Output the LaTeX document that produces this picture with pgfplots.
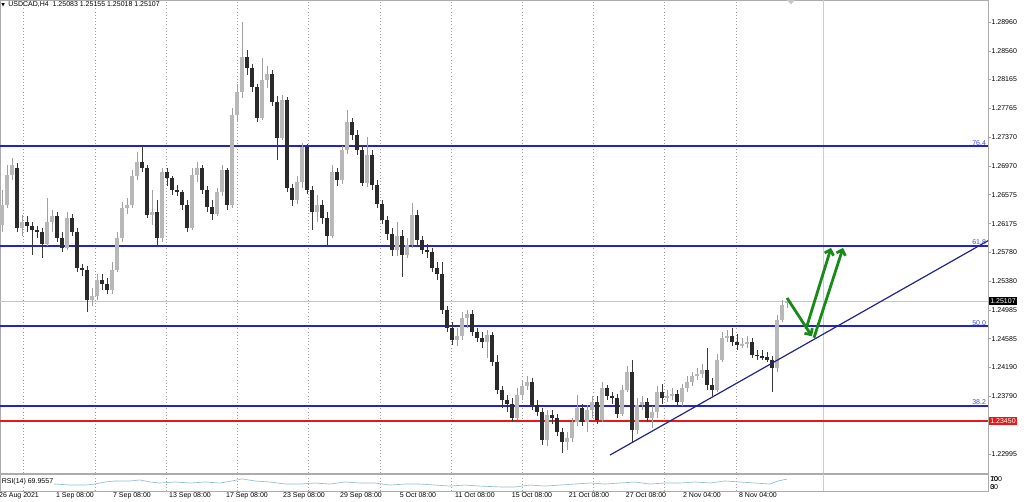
\documentclass[border=0pt]{standalone}
\usepackage{fontspec}
\setmainfont{Liberation Sans}
\newfontfamily\dejavu{DejaVu Sans}
\usepackage{pgfplots}
\usepackage{pgfplotstable}
\pgfplotsset{compat=1.18}
\usetikzlibrary{arrows.meta}
\definecolor{fibBlue}{HTML}{2323C8}
\definecolor{fibText}{HTML}{4646DC}
\definecolor{trendNavy}{HTML}{23238C}
\definecolor{levelRed}{HTML}{E81818}
\definecolor{bidLine}{HTML}{D6C2AE}
\definecolor{bullBody}{HTML}{B8B8B8}
\definecolor{bullWick}{HTML}{A0A0A0}
\definecolor{bearBody}{HTML}{2B2B2B}
\definecolor{bearWick}{HTML}{3A3A3A}
\definecolor{arrowGreen}{HTML}{178A17}
\definecolor{rsiLine}{HTML}{93BFCC}
\newcommand{\tinyfont}{\fontsize{5.25}{6}\selectfont}

\begin{document}
% USDCAD H4 candles: x = screen column, o h l c = prices
\pgfplotstableread{
x o h l c
2 1.2616 1.2664 1.2606 1.2643
7 1.2643 1.2699 1.2639 1.2685
12 1.2685 1.2708 1.2678 1.2699
17 1.2694 1.2701 1.2606 1.2612
22 1.2612 1.2630 1.2600 1.2620
27 1.2620 1.2628 1.2606 1.2614
32 1.2614 1.2620 1.2574 1.2609
37 1.2609 1.2614 1.2598 1.2606
42 1.2606 1.2612 1.2570 1.2590
47 1.2590 1.2653 1.2587 1.2620
52 1.2620 1.2636 1.2606 1.2628
57 1.2628 1.2634 1.2592 1.2598
62 1.2598 1.2606 1.2578 1.2584
67 1.2584 1.2634 1.2581 1.2625
72 1.2625 1.2631 1.2600 1.2606
77 1.2606 1.2612 1.2551 1.2556
82 1.2556 1.2562 1.2545 1.2554
87 1.2554 1.2559 1.2496 1.2512
92 1.2512 1.2529 1.2504 1.2518
97 1.2518 1.2548 1.2512 1.2540
102 1.2540 1.2548 1.2526 1.2534
107 1.2534 1.2542 1.2520 1.2526
112 1.2526 1.2565 1.2520 1.2554
117 1.2554 1.2606 1.2551 1.2598
122 1.2598 1.2647 1.2592 1.2639
127 1.2639 1.2653 1.2631 1.2643
132 1.2643 1.2692 1.2639 1.2683
137 1.2683 1.2717 1.2678 1.2703
142 1.2703 1.2726 1.2689 1.2694
147 1.2694 1.2699 1.2625 1.2630
152 1.2630 1.2664 1.2616 1.2634
157 1.2634 1.2650 1.2585 1.2598
162 1.2598 1.2694 1.2592 1.2689
167 1.2689 1.2694 1.2669 1.2681
172 1.2681 1.2683 1.2657 1.2664
177 1.2664 1.2671 1.2656 1.2661
182 1.2661 1.2664 1.2636 1.2643
187 1.2643 1.2650 1.2606 1.2612
192 1.2612 1.2694 1.2609 1.2685
197 1.2685 1.2703 1.2675 1.2694
202 1.2694 1.2699 1.2659 1.2664
207 1.2664 1.2669 1.2634 1.2641
212 1.2641 1.2650 1.2623 1.2631
217 1.2631 1.2667 1.2628 1.2661
222 1.2661 1.2699 1.2656 1.2692
227 1.2692 1.2694 1.2636 1.2643
232 1.2643 1.2777 1.2639 1.2768
237 1.2768 1.2810 1.2758 1.2799
242 1.2799 1.2896 1.2791 1.2848
247 1.2848 1.2857 1.2823 1.2833
252 1.2833 1.2838 1.2799 1.2806
257 1.2806 1.2810 1.2758 1.2763
262 1.2763 1.2846 1.2761 1.2816
267 1.2816 1.2835 1.2805 1.2824
272 1.2824 1.2830 1.2780 1.2786
277 1.2786 1.2794 1.2705 1.2736
282 1.2736 1.2795 1.2733 1.2788
287 1.2788 1.2792 1.2661 1.2667
292 1.2667 1.2672 1.2642 1.2650
297 1.2650 1.2683 1.2645 1.2675
302 1.2675 1.2729 1.2667 1.2723
307 1.2723 1.2728 1.2659 1.2664
312 1.2664 1.2669 1.2609 1.2634
317 1.2634 1.2657 1.2620 1.2643
322 1.2643 1.2650 1.2617 1.2625
327 1.2625 1.2634 1.2587 1.2600
332 1.2600 1.2699 1.2598 1.2689
337 1.2689 1.2694 1.2669 1.2678
342 1.2678 1.2725 1.2672 1.2719
347 1.2719 1.2775 1.2714 1.2758
352 1.2758 1.2763 1.2733 1.2740
357 1.2740 1.2747 1.2712 1.2719
362 1.2719 1.2725 1.2669 1.2674
367 1.2674 1.2737 1.2668 1.2712
372 1.2712 1.2719 1.2664 1.2671
377 1.2671 1.2678 1.2639 1.2645
382 1.2645 1.2650 1.2617 1.2623
387 1.2623 1.2628 1.2595 1.2603
392 1.2603 1.2612 1.2573 1.2581
397 1.2581 1.2620 1.2573 1.2600
402 1.2600 1.2609 1.2544 1.2574
407 1.2574 1.2598 1.2570 1.2588
412 1.2588 1.2646 1.2584 1.2630
417 1.2630 1.2636 1.2587 1.2595
422 1.2595 1.2600 1.2576 1.2581
427 1.2581 1.2590 1.2570 1.2578
432 1.2578 1.2584 1.2551 1.2556
437 1.2556 1.2565 1.2540 1.2548
442 1.2548 1.2565 1.2493 1.2498
447 1.2498 1.2504 1.2468 1.2474
452 1.2474 1.2482 1.2450 1.2457
457 1.2457 1.2474 1.2449 1.2462
462 1.2462 1.2496 1.2457 1.2487
467 1.2487 1.2498 1.2474 1.2493
472 1.2493 1.2498 1.2462 1.2468
477 1.2468 1.2474 1.2454 1.2460
482 1.2460 1.2468 1.2446 1.2454
487 1.2454 1.2471 1.2432 1.2464
492 1.2464 1.2468 1.2421 1.2426
497 1.2426 1.2436 1.2382 1.2388
502 1.2388 1.2393 1.2363 1.2374
507 1.2374 1.2381 1.2357 1.2369
512 1.2369 1.2377 1.2344 1.2349
517 1.2349 1.2391 1.2346 1.2381
522 1.2381 1.2402 1.2374 1.2393
527 1.2393 1.2407 1.2388 1.2399
532 1.2399 1.2404 1.2360 1.2367
537 1.2367 1.2374 1.2352 1.2357
542 1.2357 1.2363 1.2312 1.2319
547 1.2319 1.2360 1.2310 1.2353
552 1.2353 1.2360 1.2341 1.2349
557 1.2349 1.2355 1.2324 1.2330
562 1.2330 1.2335 1.2301 1.2316
567 1.2316 1.2330 1.2305 1.2322
572 1.2322 1.2349 1.2316 1.2344
577 1.2344 1.2381 1.2338 1.2363
582 1.2363 1.2369 1.2338 1.2344
587 1.2344 1.2367 1.2330 1.2360
592 1.2360 1.2380 1.2349 1.2371
597 1.2371 1.2380 1.2341 1.2346
602 1.2346 1.2399 1.2344 1.2391
607 1.2391 1.2395 1.2374 1.2380
612 1.2380 1.2385 1.2369 1.2377
617 1.2377 1.2382 1.2349 1.2355
622 1.2355 1.2395 1.2352 1.2388
627 1.2388 1.2421 1.2385 1.2413
632 1.2413 1.2429 1.2315 1.2333
637 1.2333 1.2377 1.2327 1.2367
642 1.2367 1.2380 1.2360 1.2371
647 1.2371 1.2377 1.2344 1.2349
652 1.2349 1.2366 1.2335 1.2357
657 1.2357 1.2393 1.2349 1.2385
662 1.2385 1.2396 1.2369 1.2377
667 1.2377 1.2388 1.2371 1.2380
672 1.2380 1.2391 1.2374 1.2382
677 1.2382 1.2388 1.2366 1.2371
682 1.2371 1.2396 1.2366 1.2391
687 1.2391 1.2407 1.2385 1.2399
692 1.2399 1.2413 1.2393 1.2407
697 1.2407 1.2418 1.2402 1.2410
702 1.2410 1.2424 1.2404 1.2415
707 1.2415 1.2446 1.2388 1.2395
712 1.2395 1.2404 1.2380 1.2388
717 1.2388 1.2438 1.2385 1.2429
722 1.2429 1.2468 1.2426 1.2460
727 1.2460 1.2471 1.2454 1.2462
732 1.2462 1.2474 1.2449 1.2454
737 1.2454 1.2465 1.2443 1.2450
742 1.2450 1.2460 1.2446 1.2451
747 1.2451 1.2462 1.2446 1.2454
752 1.2454 1.2460 1.2432 1.2436
757 1.2436 1.2443 1.2429 1.2435
762 1.2435 1.2443 1.2429 1.2433
767 1.2433 1.2440 1.2426 1.2429
772 1.2429 1.2435 1.2385 1.2418
777 1.2418 1.2491 1.2413 1.2485
782 1.2485 1.2512 1.2482 1.2505
787 1.25083 1.25155 1.25018 1.25107
}\candles

\begin{tikzpicture}
\useasboundingbox (0,0) rectangle (768pt,375.75pt);

% price pane
\begin{axis}[
  at={(0pt,21pt)}, anchor=south west,
  width=741pt, height=354.75pt, scale only axis,
  xmin=0, xmax=988, ymin=1.22732, ymax=1.29264,
  axis line style={draw=gray!65, line width=0.6pt},
  xtick={23,95,166,237,308,380,451,522,593,664,736}, xticklabels={},
  xmajorgrids, grid style={dotted, gray!75, line width=0.4pt},
  xtick style={draw=none},
  ytick={1.2896,1.2856,1.28165,1.27765,1.2737,1.2697,1.26575,1.26175,1.2578,1.2538,1.24985,1.24585,1.2419,1.2379,1.22995},
  yticklabels={1.28960,1.28560,1.28165,1.27765,1.27370,1.26970,1.26575,1.26175,1.25780,1.25380,1.24985,1.24585,1.24190,1.23790,1.22995},
  ytick pos=right, yticklabel pos=right,
  ytick style={draw=gray!70, line width=0.5pt},
  tick align=outside, major tick length=2pt,
  yticklabel style={font=\tinyfont, anchor=west, inner sep=0pt, xshift=0.5pt},
  clip=false,
]
% chart shift line and bid line
\addplot[gray!40, line width=0.6pt] coordinates {(823,1.22732) (823,1.29264)};
\addplot[bidLine, line width=0.6pt] coordinates {(0,1.25107) (988,1.25107)};
% fibonacci levels and red level
\addplot[fibBlue, line width=1.25pt] coordinates {(0,1.27245) (988,1.27245)};
\addplot[fibBlue, line width=1.25pt] coordinates {(0,1.2587) (988,1.2587)};
\addplot[fibBlue, line width=1.25pt] coordinates {(0,1.2476) (988,1.2476)};
\addplot[fibBlue, line width=1.25pt] coordinates {(0,1.2366) (988,1.2366)};
\addplot[levelRed, line width=0.85pt] coordinates {(0,1.2345) (988,1.2345)};

% wicks
\addplot[draw=none, mark=none, error bars/.cd, y dir=both, y explicit, error mark=none,
  error bar style={draw=bullWick, line width=0.7pt}]
  table[x=x, y expr={(\thisrow{h}+\thisrow{l})/2},
        y error expr={(\thisrow{c}>=\thisrow{o})*(\thisrow{h}-\thisrow{l})/2}] {\candles};
\addplot[draw=none, mark=none, error bars/.cd, y dir=both, y explicit, error mark=none,
  error bar style={draw=bearWick, line width=0.7pt}]
  table[x=x, y expr={(\thisrow{h}+\thisrow{l})/2},
        y error expr={(\thisrow{o}>\thisrow{c})*(\thisrow{h}-\thisrow{l})/2}] {\candles};
% bodies
\addplot[draw=none, mark=none, error bars/.cd, y dir=both, y explicit, error mark=none,
  error bar style={draw=bullBody, line width=2.3pt}]
  table[x=x, y expr={(\thisrow{o}+\thisrow{c})/2},
        y error expr={(\thisrow{c}>=\thisrow{o})*(\thisrow{c}-\thisrow{o})/2}] {\candles};
\addplot[draw=none, mark=none, error bars/.cd, y dir=both, y explicit, error mark=none,
  error bar style={draw=bearBody, line width=2.3pt}]
  table[x=x, y expr={(\thisrow{o}+\thisrow{c})/2},
        y error expr={(\thisrow{o}>\thisrow{c})*(\thisrow{o}-\thisrow{c})/2}] {\candles};

% trend line
\addplot[trendNavy, line width=0.9pt] coordinates {(610,1.2298) (988,1.2594)};
% projected path
\addplot[arrowGreen, line width=2.1pt, -{Straight Barb[length=3.5pt,width=7pt]}] coordinates {(787,1.2515) (812,1.2462)};
\addplot[arrowGreen, line width=2.1pt, -{Straight Barb[length=3.5pt,width=7pt]}] coordinates {(806,1.2472) (831,1.2584)};
\addplot[arrowGreen, line width=2.1pt, -{Straight Barb[length=3.5pt,width=7pt]}] coordinates {(814,1.2460) (843,1.2584)};

% labels
\node[anchor=west, font=\tinyfont, inner sep=0pt] at (axis cs:1,1.29195)
  {{\dejavu\fontsize{3.5}{4}\selectfont ▼}\hspace{2.6pt}USDCAD,H4\ \ 1.25083 1.25155 1.25018 1.25107};
\fill[gray!45] (axis cs:787,1.29264) -- (axis cs:795,1.29264) -- (axis cs:791,1.29205) -- cycle;
\node[anchor=south east, font=\tinyfont, text=fibText, inner sep=0.6pt] at (axis cs:987,1.27245) {76.4};
\node[anchor=south east, font=\tinyfont, text=fibText, inner sep=0.6pt] at (axis cs:987,1.2587) {61.8};
\node[anchor=south east, font=\tinyfont, text=fibText, inner sep=0.6pt] at (axis cs:987,1.2476) {50.0};
\node[anchor=south east, font=\tinyfont, text=fibText, inner sep=0.6pt] at (axis cs:987,1.2366) {38.2};
\node[anchor=west, fill=black, text=white, font=\tinyfont, inner sep=1.1pt] at (axis cs:988.6,1.25107) {1.25107};
\node[anchor=west, fill=levelRed, text=white, font=\tinyfont, inner sep=1.1pt] at (axis cs:988.6,1.2345) {1.23450};
\end{axis}

% RSI pane
\begin{axis}[
  at={(0pt,7.5pt)}, anchor=south west,
  width=741pt, height=12.75pt, scale only axis,
  xmin=0, xmax=988, ymin=0, ymax=100,
  axis line style={draw=gray!65, line width=0.6pt},
  xtick={19,75,132,190,247,304,361,418,475,532,589,646,702,758},
  xticklabels={26 Aug 2021, 1 Sep 08:00, 7 Sep 08:00, 13 Sep 08:00, 17 Sep 08:00, 23 Sep 08:00, 29 Sep 08:00, 5 Oct 08:00, 11 Oct 08:00, 15 Oct 08:00, 21 Oct 08:00, 27 Oct 08:00, 2 Nov 04:00, 8 Nov 04:00},
  xticklabel style={font=\tinyfont, anchor=north, inner sep=0pt, yshift=-1.2pt},
  xtick style={draw=none},
  extra x ticks={23,95,166,237,308,380,451,522,593,664,736},
  extra x tick labels={},
  extra x tick style={grid=major, grid style={dotted, gray!75, line width=0.4pt}},
  ytick=\empty,
  clip=false,
]
\addplot[gray!40, line width=0.6pt] coordinates {(823,0) (823,100)};
\addplot[rsiLine, line width=0.5pt] coordinates {
(0,47)(20,47)(40,41)(55,41)(70,35)(85,35)(95,41)(105,53)(115,59)(130,59)(140,65)(150,53)
(160,47)(175,53)(190,47)(205,53)(220,47)(232,59)(242,71)(255,59)(270,53)(285,41)(300,41)
(315,47)(330,41)(345,53)(360,47)(375,47)(390,35)(405,41)(420,41)(435,35)(450,29)(465,35)
(480,29)(500,24)(515,24)(530,35)(545,29)(560,35)(575,41)(590,47)(605,41)(620,47)(635,53)
(650,41)(665,47)(680,47)(695,53)(710,47)(725,59)(740,53)(755,47)(770,41)(778,59)(787,70)};
\node[anchor=west, font=\tinyfont, fill=white, inner sep=0.4pt] at (axis cs:1,53) {RSI(14) 69.9557};
\node[anchor=west, font=\tinyfont, inner sep=0pt] at (axis cs:990,68) {100};
\node[anchor=west, font=\tinyfont, inner sep=0pt] at (axis cs:990,68) {70};
\node[anchor=west, font=\tinyfont, inner sep=0pt] at (axis cs:990,22) {30};
\node[anchor=west, font=\tinyfont, inner sep=0pt] at (axis cs:990,22) {0};
\end{axis}
\end{tikzpicture}
\end{document}
